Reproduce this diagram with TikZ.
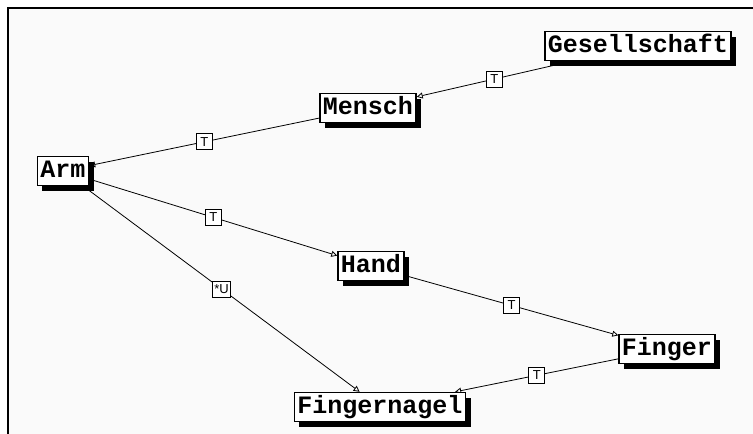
\documentclass[tikz,border=0pt]{standalone}
\usepackage{fontspec}
\usepackage{tikz}
\usetikzlibrary{arrows.meta,shadows,backgrounds}
\newfontfamily\boxfont{Liberation Mono}
\newfontfamily\labfont{Liberation Sans}

\tikzset{
  concept/.style={draw, line width=1.4pt, fill=white, inner xsep=3pt, inner ysep=4pt,
    text height=17pt, text depth=4pt,
    font=\boxfont\bfseries\fontsize{25}{25}\selectfont,
    drop shadow={shadow xshift=5pt, shadow yshift=-5pt, fill=black, opacity=1}},
  rel/.style={draw, line width=0.9pt, fill=white, inner sep=1.5pt, minimum height=16pt, minimum width=16pt,
    font=\labfont\fontsize{13}{13}\selectfont},
  link/.style={line width=0.8pt, -{Triangle[open, length=6pt, width=6pt]}}
}

\begin{document}
\begin{tikzpicture}[x=1pt, y=-1pt]
		\useasboundingbox (0, 0) rectangle (753, 434);

		\node[concept] at (638, 46) (ges) {Gesellschaft};
		\node[concept] at (368, 108) (men) {Mensch};
		\node[concept] at (63, 171) (arm) {Arm};
		\node[concept] at (371, 266) (hand) {Hand};
		\node[concept] at (667, 349) (fin) {Finger};
		\node[concept] at (380, 407) (nag) {Fingernagel};

		\begin{pgfonlayer}{background}
		\fill[black!2] (8, 8) rectangle (753, 434);
		\draw[line width=2pt] (8, 434) -- (8, 8) -- (753, 8);

		\draw[link] (ges) -- node[rel] {T} (men);
		\draw[link] (men) -- node[rel] {T} (arm);
		\draw[link] (arm) -- node[rel] {T} (hand);
		\draw[link] (hand) -- node[rel] {T} (fin);
		\draw[link] (fin) -- node[rel] {T} (nag);
		\draw[link] (arm) -- node[rel] {*U} (nag);
		\end{pgfonlayer}
	\end{tikzpicture}
\end{document}
